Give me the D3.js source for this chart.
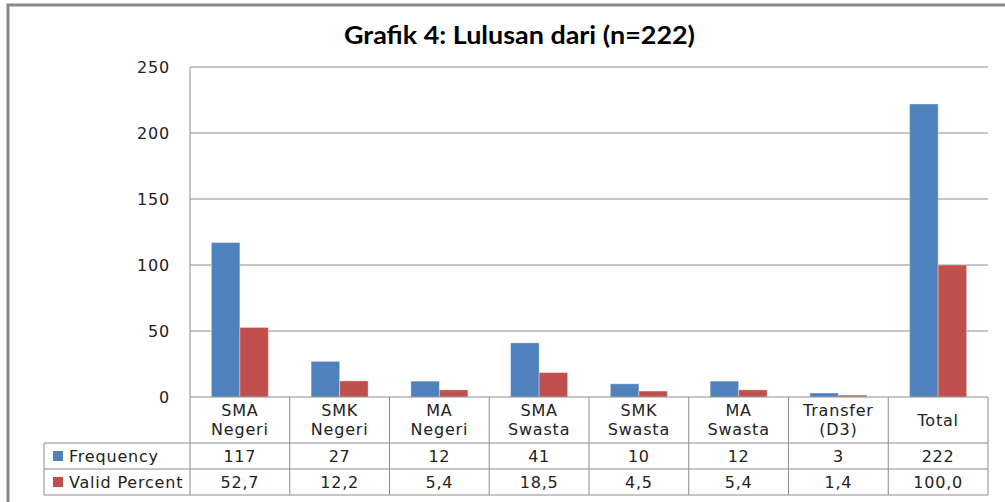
<!DOCTYPE html>
<html>
<head>
<meta charset="utf-8">
<script src="https://cdn.jsdelivr.net/npm/d3@7"></script>
<style>
  body { margin: 0; background: #fff; }
  svg { display: block; }
</style>
</head>
<body>
<div id="chart"></div>
<script>
// data
const categories = [["SMA", "Negeri"], ["SMK", "Negeri"], ["MA", "Negeri"], ["SMA", "Swasta"],
                    ["SMK", "Swasta"], ["MA", "Swasta"], ["Transfer", "(D3)"], ["Total"]];
const seriesNames = ["Frequency", "Valid Percent"];
const frequency = [117, 27, 12, 41, 10, 12, 3, 222];
const validPercent = [52.7, 12.2, 5.4, 18.5, 4.5, 5.4, 1.4, 100.0];
const frequencyLabels = ["117", "27", "12", "41", "10", "12", "3", "222"];
const percentLabels = ["52,7", "12,2", "5,4", "18,5", "4,5", "5,4", "1,4", "100,0"];
const yTicks = [0, 50, 100, 150, 200, 250];
const colors = ["#4f81bd", "#c0504d"];

const W = 1005, H = 502;
const plotLeft = 190, plotRight = 988, plotTop = 67, plotBase = 397;
const rowY = [397, 443, 469, 495];   // table row lines
const tableLeft = 44;

const svg = d3.select("#chart").append("svg")
  .attr("width", W).attr("height", H);

// outer frame (only left and top edges are visible)
svg.append("path")
  .attr("d", `M8,${H} L8,5 L${W},5`)
  .attr("fill", "none").attr("stroke", "#888").attr("stroke-width", 3);

// title
svg.append("text")
  .attr("x", 344).attr("y", 44)
  .attr("textLength", 351).attr("lengthAdjust", "spacingAndGlyphs")
  .attr("font-family", "Lato, 'Open Sans', sans-serif")
  .attr("font-weight", "bold").attr("font-size", 24)
  .attr("fill", "#000")
  .text("Grafik 4: Lulusan dari (n=222)");

const idx = d3.range(categories.length);
const x0 = d3.scaleBand().domain(idx).range([plotLeft, plotRight]).padding(0);
const x1 = d3.scaleBand().domain([0, 1]).range([0, x0.bandwidth()])
  .paddingInner(0).paddingOuter(0.75);
const y = d3.scaleLinear().domain([0, 250]).range([plotBase, plotTop]);

const font = "'DejaVu Sans', Verdana, sans-serif";
const spacing = 0.8;

// gridlines
svg.append("g").selectAll("line").data(yTicks.filter(d => d > 0)).join("line")
  .attr("x1", plotLeft).attr("x2", plotRight)
  .attr("y1", d => y(d)).attr("y2", d => y(d))
  .attr("stroke", "#8a8a8a").attr("stroke-width", 1);

// y axis
const yAxis = svg.append("g")
  .attr("transform", `translate(${plotLeft},0)`)
  .call(d3.axisLeft(y).tickValues(yTicks).tickSize(0).tickPadding(20));
yAxis.select(".domain").remove();
yAxis.selectAll("text")
  .attr("font-family", font).attr("letter-spacing", spacing)
  .attr("font-size", 16).attr("fill", "#222");

// bars
const values = [frequency, validPercent];
values.forEach((vals, s) => {
  svg.append("g").selectAll("rect").data(idx).join("rect")
    .attr("x", i => x0(i) + x1(s))
    .attr("width", x1.bandwidth())
    .attr("y", i => y(vals[i]))
    .attr("height", i => y(0) - y(vals[i]))
    .attr("fill", colors[s])
    .attr("stroke", "rgba(255,255,255,0.35)").attr("stroke-width", 1);
});

// table lines
const lineColor = "#8c8c8c";
const tbl = svg.append("g").attr("stroke", lineColor).attr("stroke-width", 1);
tbl.append("line").attr("x1", plotLeft).attr("x2", plotRight).attr("y1", plotBase).attr("y2", plotBase);
tbl.append("line").attr("x1", plotLeft).attr("x2", plotLeft).attr("y1", plotTop).attr("y2", rowY[3]);
rowY.slice(1).forEach(r => {
  tbl.append("line").attr("x1", tableLeft).attr("x2", plotRight).attr("y1", r).attr("y2", r);
});
tbl.append("line").attr("x1", tableLeft).attr("x2", tableLeft).attr("y1", rowY[1]).attr("y2", rowY[3]);
idx.forEach(i => {
  const xr = x0(i) + x0.bandwidth();
  tbl.append("line").attr("x1", xr).attr("x2", xr).attr("y1", plotBase).attr("y2", rowY[3]);
});

// table text
const txt = svg.append("g").attr("font-family", font).attr("font-size", 16)
  .attr("letter-spacing", spacing)
  .attr("fill", "#222").attr("text-anchor", "middle");

txt.selectAll("text.cat").data(idx).join("text")
  .attr("class", "cat")
  .attr("x", i => x0(i) + x0.bandwidth() / 2)
  .attr("y", i => categories[i].length > 1 ? 416 : 426)
  .each(function(i) {
    const t = d3.select(this);
    categories[i].forEach((line, k) => {
      t.append("tspan")
        .attr("x", x0(i) + x0.bandwidth() / 2)
        .attr("dy", k === 0 ? 0 : 19)
        .text(line);
    });
  });

[frequencyLabels, percentLabels].forEach((labels, s) => {
  txt.append("g").selectAll("text").data(idx).join("text")
    .attr("x", i => x0(i) + x0.bandwidth() / 2)
    .attr("y", s === 0 ? 462 : 488)
    .text(i => labels[i]);
});

// legend keys in the table
seriesNames.forEach((name, s) => {
  const cy = (rowY[s + 1] + rowY[s + 2]) / 2;
  svg.append("rect")
    .attr("x", 53).attr("y", cy - 5)
    .attr("width", 10).attr("height", 10)
    .attr("fill", colors[s]);
  svg.append("text")
    .attr("x", 69).attr("y", s === 0 ? 462 : 488)
    .attr("font-family", font).attr("font-size", 16).attr("fill", "#222")
    .attr("letter-spacing", spacing)
    .text(name);
});
</script>
</body>
</html>
